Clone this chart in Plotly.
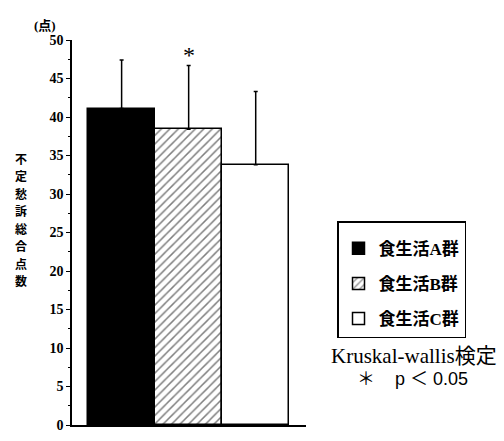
import plotly.graph_objects as go

# Mean total score of unidentified complaints per dietary-habit group, with SD
groups = ["食生活A群", "食生活B群", "食生活C群"]
means = [41.1, 38.4, 33.8]
sds = [6.3, 8.3, 9.5]
y_ticks = [0, 5, 10, 15, 20, 25, 30, 35, 40, 45, 50]
y_title = "不定愁訴総合点数"

fills = ["black", "white", "white"]
patterns = ["", "/", ""]

JP = "Liberation Serif, Noto Sans CJK JP"

fig = go.Figure()
for i, (g, m, s) in enumerate(zip(groups, means, sds)):
    fig.add_trace(go.Bar(
        x=[i], y=[m], name=g, width=1, legendgroup=g,
        marker=dict(color=fills[i], line=dict(color="black", width=1.5),
                    pattern=dict(shape=patterns[i], fgcolor="black", bgcolor="white",
                                 size=6, solidity=0.25, fillmode="overlay") if patterns[i] else None),
        error_y=dict(type="data", symmetric=False, array=[s], arrayminus=[0],
                     color="black", thickness=1.5, width=2),
    ))

# significance mark above group B
fig.add_annotation(x=1, y=means[1] + sds[1], text="*", showarrow=False,
                   yanchor="bottom", yshift=-5,
                   font=dict(family="Liberation Serif", size=24, color="black"))

fig.add_annotation(xref="paper", yref="paper", x=-0.115, xanchor="center", y=1.0,
                   yanchor="bottom", yshift=5, text="(点)", showarrow=False,
                   font=dict(family=JP, size=13, color="black", weight="bold"))

# vertical axis title, one character per row
for k, ch in enumerate(y_title):
    fig.add_annotation(xref="paper", yref="paper", x=-0.22, xanchor="center",
                       y=1.0, yanchor="middle", yshift=-(118 + 17.5 * k),
                       text=ch, showarrow=False, borderpad=0,
                       font=dict(family="Noto Sans CJK JP", size=12, color="black",
                                 weight="bold"))

fig.add_annotation(xref="paper", yref="paper", x=1.463, xanchor="center", y=0.18,
                   yanchor="middle", text="Kruskal-wallis検定", showarrow=False,
                   font=dict(family=JP, size=21, color="black"))
fig.add_annotation(xref="paper", yref="paper", x=1.455, xanchor="center", y=0.12,
                   yanchor="middle", text="＊    p ＜ 0.05", showarrow=False,
                   font=dict(family="Liberation Sans, Noto Sans CJK JP", size=18,
                             color="black"))

fig.update_layout(
    width=504, height=441,
    margin=dict(l=72, r=198, t=39.5, b=8),
    paper_bgcolor="white", plot_bgcolor="white",
    bargap=0, showlegend=True,
    legend=dict(x=1.1325, y=0.5286, xanchor="left", yanchor="top",
                bordercolor="black", borderwidth=1.5, traceorder="grouped",
                tracegroupgap=10, entrywidth=105, entrywidthmode="pixels",
                title=dict(text=" ", font=dict(size=6)),
                font=dict(family=JP, size=17, color="black", weight="bold")),
    xaxis=dict(range=[-0.74, 2.75], showticklabels=False, ticks="",
               showline=True, linecolor="black", linewidth=1.5,
               showgrid=False, zeroline=False, fixedrange=True),
    yaxis=dict(range=[0, 50], tickvals=y_ticks, ticks="outside", ticklen=4,
               tickwidth=1, tickcolor="black",
               minor=dict(dtick=2.5, ticks="outside", ticklen=2, tickcolor="black"),
               showline=True, linecolor="black", linewidth=1.5,
               showgrid=False, zeroline=False,
               tickfont=dict(family="Liberation Serif", size=14, color="black", weight="bold")),
)

fig.write_html("out.html")
